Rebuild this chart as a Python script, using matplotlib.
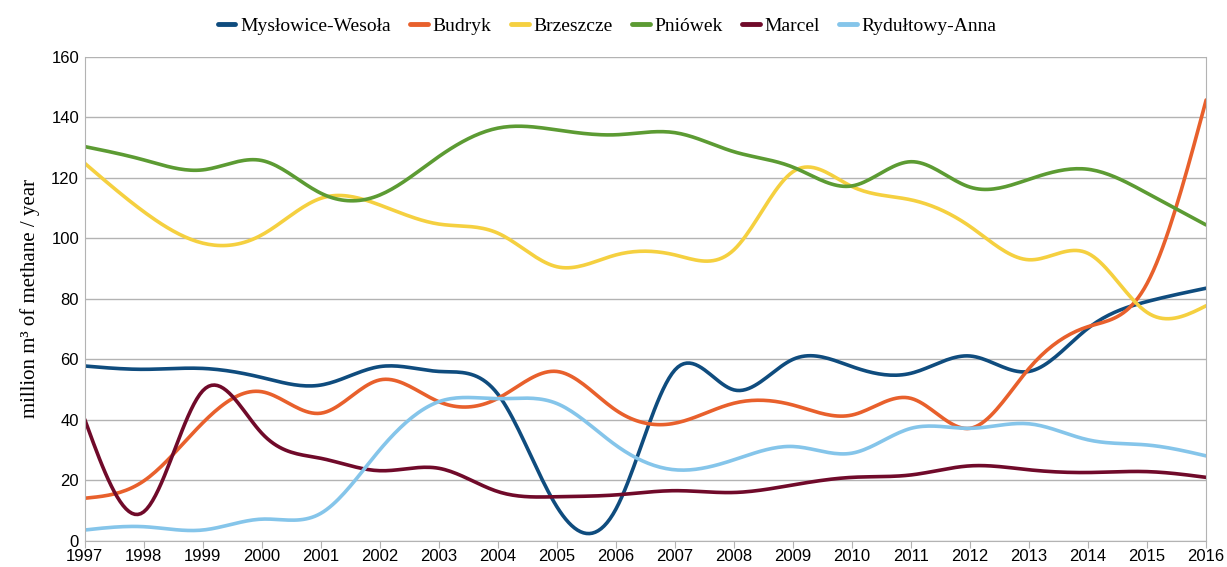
import numpy as np
import matplotlib
matplotlib.use('Agg')
import matplotlib.pyplot as plt

years = list(range(1997, 2017))

myslowice = [57.8, 56.7, 57.0, 54.0, 51.5, 57.6, 56.0, 48.5, 11.3, 10.5,
             56.5, 49.9, 60.0, 57.6, 55.4, 61.1, 56.0, 70.3, 79.1, 83.5]
budryk = [14.1, 19.8, 39.0, 49.3, 42.2, 53.2, 46.0, 47.1, 56.0, 43.2,
          38.9, 45.5, 44.9, 41.6, 47.1, 37.2, 57.0, 70.8, 85.1, 145.7]
brzeszcze = [124.8, 108.8, 98.4, 101.1, 113.2, 111.0, 104.7, 101.7, 90.6, 94.5,
             94.5, 96.2, 122.0, 117.1, 112.7, 103.9, 92.9, 95.0, 75.5, 77.7]
pniowek = [130.3, 125.9, 122.6, 125.7, 114.9, 114.3, 127.0, 136.4, 135.8, 134.2,
           134.9, 128.6, 123.5, 117.3, 125.3, 116.9, 119.5, 122.8, 114.9, 104.4]
marcel = [40.2, 9.6, 49.6, 35.6, 27.3, 23.2, 24.0, 16.3, 14.6, 15.2,
          16.6, 16.0, 18.5, 21.0, 21.8, 24.8, 23.5, 22.6, 22.9, 21.0]
rydultowy = [3.6, 4.7, 3.6, 7.2, 9.1, 30.1, 46.0, 47.0, 45.4, 31.6,
             23.5, 26.8, 31.2, 29.0, 37.2, 37.2, 38.7, 33.4, 31.7, 28.1]

names = ['Mysłowice-Wesoła', 'Budryk', 'Brzeszcze', 'Pniówek', 'Marcel', 'Rydułtowy-Anna']
series = [myslowice, budryk, brzeszcze, pniowek, marcel, rydultowy]
colors = ['#0f4c7e', '#e8602c', '#f5d040', '#5c9b33', '#700a2a', '#85c5ea']


def spline(x, y, n=20):
    # natural cubic spline, only used to draw the smoothed line
    x = np.asarray(x, float)
    y = np.asarray(y, float)
    k = len(x)
    h = np.diff(x)
    A = np.zeros((k, k))
    b = np.zeros(k)
    A[0, 0] = A[-1, -1] = 1
    for i in range(1, k - 1):
        A[i, i - 1] = h[i - 1]
        A[i, i] = 2 * (h[i - 1] + h[i])
        A[i, i + 1] = h[i]
        b[i] = 3 * ((y[i + 1] - y[i]) / h[i] - (y[i] - y[i - 1]) / h[i - 1])
    c = np.linalg.solve(A, b)
    xs, ys = [], []
    for i in range(k - 1):
        bb = (y[i + 1] - y[i]) / h[i] - h[i] * (2 * c[i] + c[i + 1]) / 3
        d = (c[i + 1] - c[i]) / (3 * h[i])
        t = np.linspace(0, h[i], n, endpoint=(i == k - 2))
        xs.append(x[i] + t)
        ys.append(y[i] + bb * t + c[i] * t**2 + d * t**3)
    return np.concatenate(xs), np.concatenate(ys)


fig = plt.figure(figsize=(12.27, 5.67), dpi=100)
ax = fig.add_axes([0.069, 0.046, 0.914, 0.854])

for name, vals, col in zip(names, series, colors):
    sx, sy = spline(years, vals)
    ax.plot(sx, sy, color=col, lw=2.6, label=name, solid_capstyle='round')

ax.set_xlim(1997, 2016)
ax.set_ylim(0, 160)
ax.set_xticks(years)
ax.set_yticks(range(0, 161, 20))
ax.grid(axis='y', color='#b3b3b3', lw=1)
ax.set_axisbelow(True)
ax.spines['top'].set_visible(False)
for s in ['left', 'right', 'bottom']:
    ax.spines[s].set_color('#b3b3b3')
ax.tick_params(axis='x', length=5, color='#b3b3b3', labelsize=12, pad=1)
ax.tick_params(axis='y', length=0, labelsize=12, pad=4)
for lab in ax.get_xticklabels() + ax.get_yticklabels():
    lab.set_family('Liberation Sans')

ax.set_ylabel('million m³ of methane / year', family='Liberation Serif', fontsize=15, labelpad=8)

handles, labels = ax.get_legend_handles_labels()
leg = fig.legend(handles, labels, loc='center', bbox_to_anchor=(0.495, 0.954), ncol=6,
                 frameon=False, prop={'family': 'Liberation Serif', 'size': 14},
                 handlelength=0.9, handletextpad=0.25, columnspacing=1.0)
for line in leg.get_lines():
    line.set_linewidth(3.5)

fig.savefig('out.png', dpi=100)
